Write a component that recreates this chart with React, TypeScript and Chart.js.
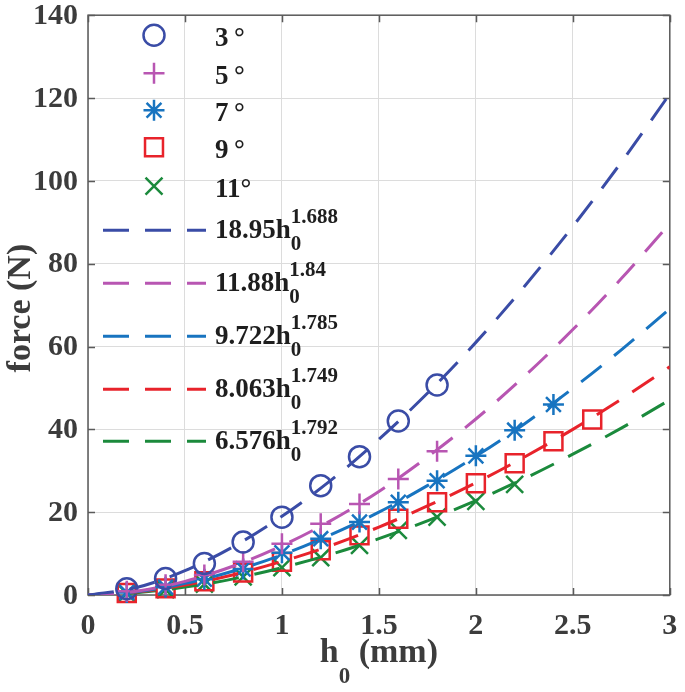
import React, { useEffect, useRef } from "react";
import { Chart, registerables } from "chart.js";

Chart.register(...registerables);

// ---- data ----
const markerX = [0.2, 0.4, 0.6, 0.8, 1.0, 1.2, 1.4, 1.6, 1.8, 2.0, 2.2, 2.4, 2.6];
const force3 = [1.5, 4.0, 7.6, 12.8, 18.8, 26.4, 33.4, 42.0, 50.7];
const force5 = [0.9, 2.5, 4.8, 8.0, 12.4, 17.2, 22.0, 28.0, 34.7];
const force7 = [0.6, 1.9, 3.8, 6.3, 10.2, 13.6, 17.6, 22.4, 27.6, 33.6, 39.8, 46.0];
const force9 = [0.5, 1.6, 3.3, 5.4, 8.0, 10.8, 14.4, 18.4, 22.4, 27.0, 31.8, 37.1, 42.4];
const force11 = [0.4, 1.3, 2.6, 4.4, 6.6, 9.0, 12.0, 15.6, 18.8, 22.6, 26.7];

const fitX = [0, 0.25, 0.5, 0.75, 1.0, 1.25, 1.5, 1.75, 2.0, 2.25, 2.5, 2.75, 3.0];
const fit3 = [0, 1.8, 5.9, 11.7, 19.0, 27.6, 37.6, 48.7, 61.0, 74.5, 89.0, 104.5, 121.0];
const fit5 = [0, 0.9, 3.3, 7.0, 11.9, 17.9, 25.0, 33.3, 42.5, 52.8, 64.1, 76.4, 89.7];
const fit7 = [0, 0.8, 2.8, 5.8, 9.7, 14.5, 20.0, 26.4, 33.5, 41.3, 49.9, 59.2, 69.1];
const fit9 = [0, 0.7, 2.4, 4.9, 8.1, 11.9, 16.4, 21.5, 27.1, 33.3, 40.0, 47.3, 55.1];
const fit11 = [0, 0.55, 1.9, 3.9, 6.6, 9.8, 13.6, 17.9, 22.8, 28.1, 34.0, 40.3, 47.1];

const seriesLabels = ["3\u2009°", "5\u2009°", "7\u2009°", "9\u2009°", "11°"];
const fitCoef = ["18.95", "11.88", "9.722", "8.063", "6.576"];
const fitExp = ["1.688", "1.84", "1.785", "1.749", "1.792"];

const xTicks = [0, 0.5, 1, 1.5, 2, 2.5, 3];
const xTickLabels = ["0", "0.5", "1", "1.5", "2", "2.5", "3"];
const yTicks = [0, 20, 40, 60, 80, 100, 120, 140];
const yTickLabels = ["0", "20", "40", "60", "80", "100", "120", "140"];

const colors = ["#3a4ca6", "#b856b2", "#1874c0", "#e8232b", "#1b8a3c"];
const styles = ["circle", "cross", "star", "rect", "crossRot"];
const radii = [10.5, 10.5, 10.5, 12.7, 12];

const FONT = '"Liberation Serif", "Times New Roman", serif';
const AXIS = "#5a5a5a";
const TEXT = "#3c3c3c";

function drawMarker(ctx: CanvasRenderingContext2D, style: string, x: number, y: number, r: number) {
  const d = r * Math.SQRT1_2;
  ctx.beginPath();
  if (style === "circle") {
    ctx.arc(x, y, r, 0, Math.PI * 2);
  } else if (style === "cross") {
    ctx.moveTo(x, y - r); ctx.lineTo(x, y + r);
    ctx.moveTo(x - r, y); ctx.lineTo(x + r, y);
  } else if (style === "star") {
    ctx.moveTo(x, y - r); ctx.lineTo(x, y + r);
    ctx.moveTo(x - r, y); ctx.lineTo(x + r, y);
    ctx.moveTo(x - d, y - d); ctx.lineTo(x + d, y + d);
    ctx.moveTo(x - d, y + d); ctx.lineTo(x + d, y - d);
  } else if (style === "rect") {
    ctx.rect(x - d, y - d, 2 * d, 2 * d);
  } else {
    ctx.moveTo(x - d, y - d); ctx.lineTo(x + d, y + d);
    ctx.moveTo(x - d, y + d); ctx.lineTo(x + d, y - d);
  }
  ctx.stroke();
}

const decor = {
  id: "decor",
  beforeDatasetsDraw(chart: any) {
    const { ctx, chartArea: a, scales } = chart;
    const xs = scales.x;
    const ys = scales.y;
    ctx.save();
    ctx.strokeStyle = AXIS;
    ctx.lineWidth = 1.5;
    ctx.strokeRect(a.left, a.top, a.right - a.left, a.bottom - a.top);
    ctx.beginPath();
    xTicks.forEach((v) => {
      const px = Math.round(xs.getPixelForValue(v)) + 0.5;
      ctx.moveTo(px, a.bottom); ctx.lineTo(px, a.bottom - 7);
      ctx.moveTo(px, a.top); ctx.lineTo(px, a.top + 7);
    });
    yTicks.forEach((v) => {
      const py = Math.round(ys.getPixelForValue(v)) + 0.5;
      ctx.moveTo(a.left, py); ctx.lineTo(a.left + 7, py);
      ctx.moveTo(a.right, py); ctx.lineTo(a.right - 7, py);
    });
    ctx.stroke();

    ctx.fillStyle = TEXT;
    ctx.font = `bold 30px ${FONT}`;
    ctx.textAlign = "right";
    ctx.textBaseline = "middle";
    yTicks.forEach((v, i) => {
      ctx.fillText(yTickLabels[i], a.left - 10, ys.getPixelForValue(v) + 1);
    });
    ctx.textAlign = "center";
    ctx.textBaseline = "alphabetic";
    xTicks.forEach((v, i) => {
      ctx.fillText(xTickLabels[i], xs.getPixelForValue(v), a.bottom + 39);
    });

    // x title: h_0 (mm)
    const cx = (a.left + a.right) / 2;
    ctx.textAlign = "left";
    ctx.font = `bold 34px ${FONT}`;
    const wH = ctx.measureText("h").width;
    const wRest = ctx.measureText(" (mm)").width;
    ctx.font = `bold 23px ${FONT}`;
    const wSub = ctx.measureText("0").width;
    const total = wH + wSub + wRest;
    const sx = cx - total / 2;
    const by = a.bottom + 67;
    ctx.font = `bold 34px ${FONT}`;
    ctx.fillText("h", sx, by);
    ctx.font = `bold 23px ${FONT}`;
    ctx.fillText("0", sx + wH, by + 21);
    ctx.font = `bold 34px ${FONT}`;
    ctx.fillText(" (mm)", sx + wH + wSub, by);

    // y title
    ctx.save();
    ctx.translate(30, (a.top + a.bottom) / 2 + 3);
    ctx.rotate(-Math.PI / 2);
    ctx.textAlign = "center";
    ctx.font = `bold 34px ${FONT}`;
    ctx.fillText("force (N)", 0, 0);
    ctx.restore();
    ctx.restore();
  },
  afterDatasetsDraw(chart: any) {
    const { ctx, chartArea: a } = chart;
    ctx.save();
    const markerRows = [20, 58, 95, 132, 171];
    const fitRows = [215, 268, 321, 374, 426];
    ctx.fillStyle = "#1e1e1e";
    ctx.textAlign = "left";
    ctx.textBaseline = "alphabetic";
    markerRows.forEach((ry, i) => {
      const y = a.top + ry;
      ctx.strokeStyle = colors[i];
      ctx.lineWidth = 2.5;
      drawMarker(ctx, styles[i], a.left + 66, y, radii[i]);
      ctx.font = `bold 27px ${FONT}`;
      ctx.fillText(seriesLabels[i], a.left + 127, y + 11);
    });
    fitRows.forEach((ry, i) => {
      const y = a.top + ry;
      ctx.strokeStyle = colors[i];
      ctx.lineWidth = 3;
      ctx.setLineDash([26, 16]);
      ctx.beginPath();
      ctx.moveTo(a.left + 15, y);
      ctx.lineTo(a.left + 118, y);
      ctx.stroke();
      ctx.setLineDash([]);
      const tx = a.left + 127;
      ctx.font = `bold 27px ${FONT}`;
      const main = fitCoef[i] + "h";
      ctx.fillText(main, tx, y + 8);
      const w = ctx.measureText(main).width;
      ctx.font = `bold 21px ${FONT}`;
      ctx.fillText(fitExp[i], tx + w, y - 7);
      ctx.fillText("0", tx + w, y + 20);
    });
    ctx.restore();
  },
};

export default function App() {
  const ref = useRef<HTMLCanvasElement | null>(null);
  useEffect(() => {
    document.body.style.margin = "0";
    const canvas = ref.current;
    if (!canvas) return;
    const markerSets = [force3, force5, force7, force9, force11].map((arr, i) => ({
      label: seriesLabels[i],
      data: arr.map((v, j) => ({ x: markerX[j], y: v })),
      showLine: false,
      borderColor: colors[i],
      backgroundColor: "rgba(0,0,0,0)",
      pointStyle: styles[i],
      pointRadius: radii[i],
      pointHoverRadius: radii[i],
      pointBorderWidth: 2.5,
      pointBorderColor: colors[i],
      pointBackgroundColor: "rgba(0,0,0,0)",
      clip: false as any,
    }));
    const fitSets = [fit3, fit5, fit7, fit9, fit11].map((arr, i) => ({
      label: fitCoef[i] + "h0^" + fitExp[i],
      data: arr.map((v, j) => ({ x: fitX[j], y: v })),
      showLine: true,
      borderColor: colors[i],
      backgroundColor: colors[i],
      borderWidth: 3,
      borderDash: [26, 16],
      pointRadius: 0,
      cubicInterpolationMode: "monotone" as const,
      fill: false,
    }));
    const chart = new Chart(canvas, {
      type: "line",
      data: { datasets: [...fitSets, ...markerSets] as any },
      options: {
        responsive: false,
        animation: false,
        layout: { padding: { left: 0, top: 12, right: 12, bottom: 0 } },
        plugins: { legend: { display: false }, tooltip: { enabled: false } },
        scales: {
          x: {
            type: "linear",
            min: 0,
            max: 3,
            ticks: { stepSize: 0.5, display: false },
            grid: { color: "#dcdcdc", lineWidth: 1, drawTicks: false },
            border: { display: false },
            afterFit: (s: any) => { s.height = 97; },
          },
          y: {
            type: "linear",
            min: 0,
            max: 140,
            ticks: { stepSize: 20, display: false },
            grid: { color: "#dcdcdc", lineWidth: 1, drawTicks: false },
            border: { display: false },
            afterFit: (s: any) => { s.width = 88; },
          },
        },
      },
      plugins: [decor],
    });
    return () => chart.destroy();
  }, []);
  return <canvas ref={ref} width={685} height={692} style={{ display: "block" }} />;
}
